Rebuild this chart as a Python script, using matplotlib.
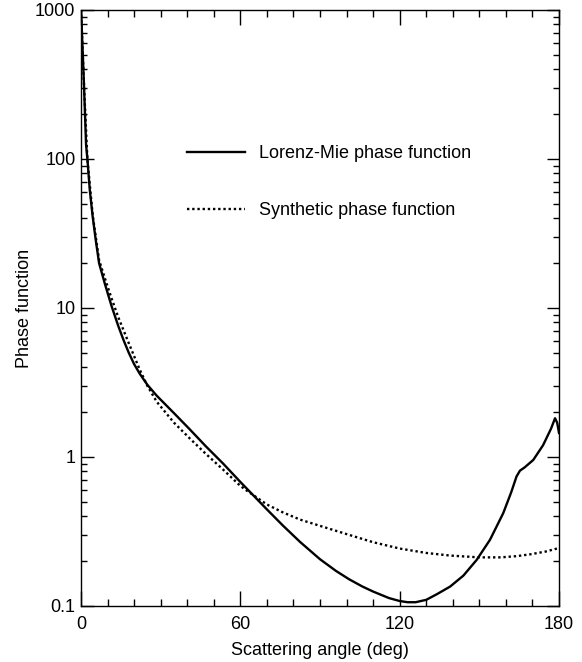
import numpy as np
import matplotlib
matplotlib.use("Agg")
import matplotlib.pyplot as plt
from matplotlib.ticker import FixedLocator, FuncFormatter, LogLocator, NullFormatter

plt.rcParams['font.family'] = ['Liberation Sans', 'DejaVu Sans']

# Lorenz-Mie phase function
mie_angle = [0, 0.5, 1.1, 1.9, 2.4, 3.3, 4.4, 5.5, 6.8, 9, 11.5, 14, 16, 18, 20, 22.2, 25,
             28.5, 35, 41, 47, 53.6, 60, 65, 70, 76, 82.5, 90, 96, 101, 106, 110, 116, 120,
             123, 126, 130, 134, 139, 144, 149, 154, 159, 162, 164, 165.3, 167, 170.3, 174,
             177, 178.5, 179.3, 180]
mie_phase = [1000, 600, 320, 125, 100, 62, 41, 29, 20, 14.5, 10.3, 7.6, 6.1, 5.0, 4.2, 3.6,
             3.05, 2.58, 1.97, 1.53, 1.18, 0.9, 0.68, 0.55, 0.445, 0.347, 0.269, 0.206, 0.172,
             0.151, 0.135, 0.125, 0.113, 0.108, 0.106, 0.106, 0.11, 0.12, 0.135, 0.16, 0.204,
             0.278, 0.42, 0.58, 0.74, 0.81, 0.85, 0.955, 1.2, 1.55, 1.82, 1.7, 1.45]

# synthetic phase function
syn_angle = [0, 1.1, 2.4, 4.4, 6.8, 9, 11.5, 14, 16, 18, 20, 22, 25, 28.5, 35, 41, 47, 53.6,
             60, 62.4, 65, 70, 76, 82.5, 90, 101, 110, 120, 130, 139, 150, 158, 164, 169, 175,
             180]
syn_phase = [1000, 320, 100, 42, 21, 15.8, 11.6, 8.7, 7.1, 5.8, 4.75, 3.9, 3.0, 2.35, 1.7,
             1.33, 1.05, 0.82, 0.64, 0.595, 0.553, 0.48, 0.425, 0.38, 0.345, 0.3, 0.268, 0.243,
             0.227, 0.218, 0.212, 0.212, 0.216, 0.222, 0.232, 0.245]

fs = 13
fig = plt.figure(figsize=(5.82, 6.62), dpi=100)
ax = fig.add_axes([0.1392, 0.0846, 0.8213, 0.9003])

ax.plot(mie_angle, mie_phase, color='black', lw=1.7, label='Lorenz-Mie phase function')
ax.plot(syn_angle, syn_phase, color='black', lw=1.7, ls=(0, (1, 1.2)), label='Synthetic phase function')

ax.set_yscale('log')
ax.set_xlim(0, 180)
ax.set_ylim(0.1, 1000)

ax.xaxis.set_major_locator(FixedLocator([0, 60, 120, 180]))
ax.xaxis.set_minor_locator(FixedLocator(list(range(0, 181, 10))))
ax.yaxis.set_major_locator(LogLocator(base=10, numticks=10))
ax.yaxis.set_minor_locator(LogLocator(base=10, subs=np.arange(2, 10), numticks=20))
ax.yaxis.set_major_formatter(FuncFormatter(lambda v, p: '%g' % v))
ax.yaxis.set_minor_formatter(NullFormatter())

ax.tick_params(which='both', direction='in', top=True, right=True, labelsize=fs, width=1)
ax.tick_params(axis='x', which='major', length=11, pad=7.5)
ax.tick_params(axis='x', which='minor', length=5)
ax.tick_params(axis='y', which='major', length=9, pad=4)
ax.tick_params(axis='y', which='minor', length=4.5)
for s in ax.spines.values():
    s.set_linewidth(1)

ax.set_xlabel('Scattering angle (deg)', fontsize=fs, labelpad=6)
ax.set_ylabel('Phase function', fontsize=fs, labelpad=1.5)

leg = ax.legend(loc='upper left', bbox_to_anchor=(0.222, 0.7735), frameon=False, fontsize=fs,
                handlelength=3.2, handletextpad=0.78, labelspacing=2.22, borderpad=0, borderaxespad=0)

fig.savefig('out.png', dpi=100)
